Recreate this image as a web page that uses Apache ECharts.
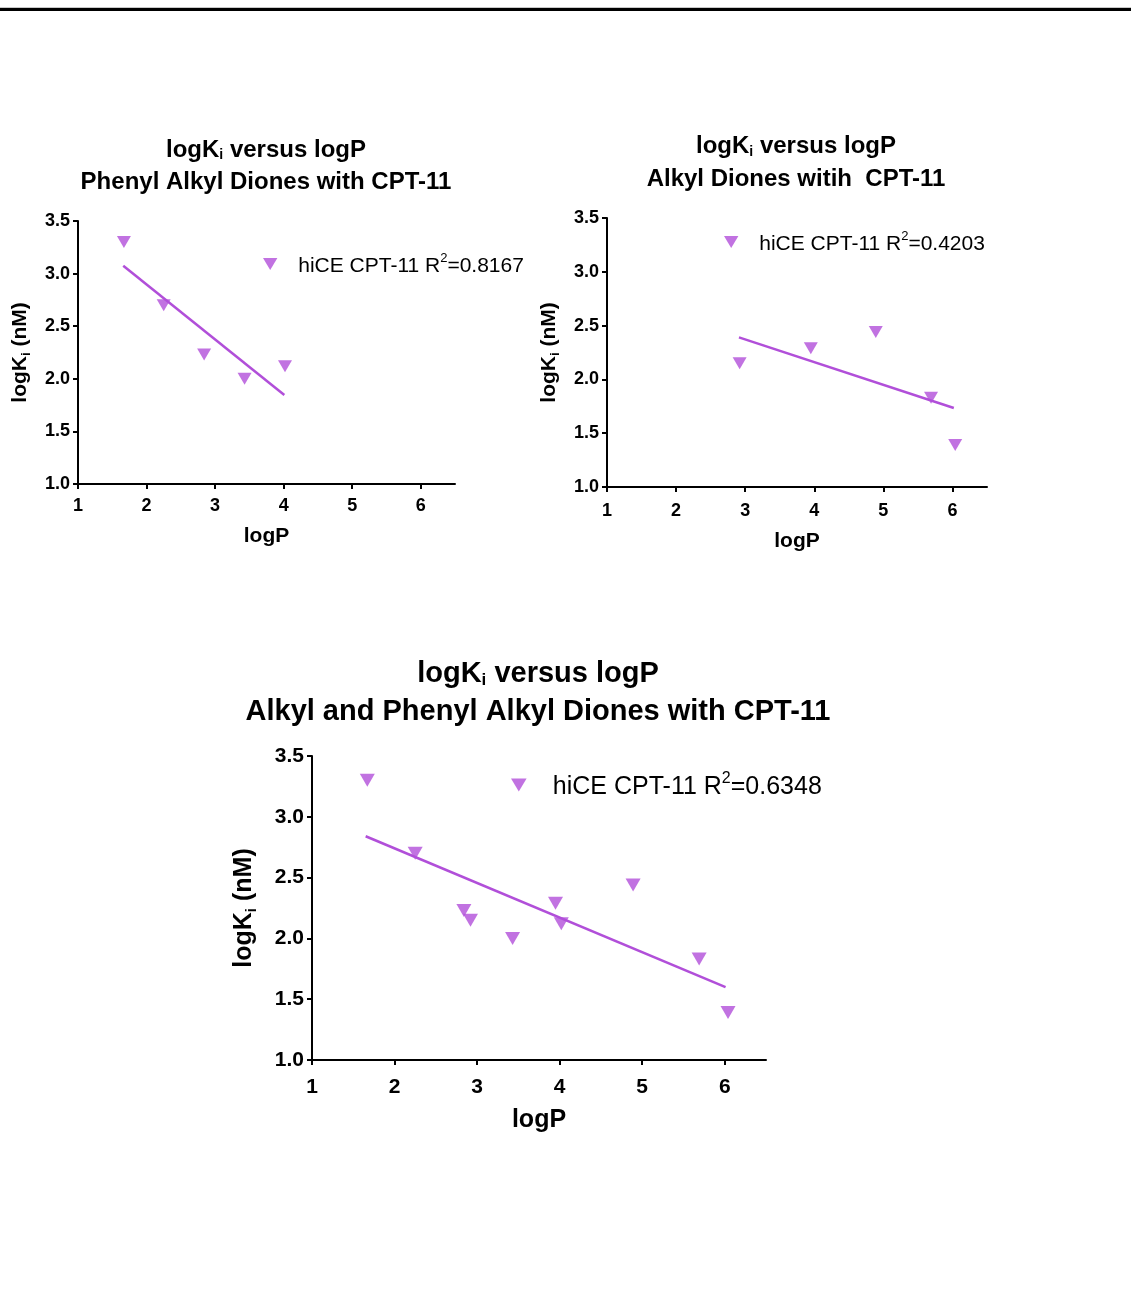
<!DOCTYPE html>
<html>
<head>
<meta charset="utf-8">
<script src="https://cdn.jsdelivr.net/npm/echarts@6/dist/echarts.min.js"></script>
<style>
html,body{margin:0;padding:0;background:#fff;}
#c{width:1131px;height:1309px;}
</style>
</head>
<body>
<div id="c"></div>
<script>
// ---------- data ----------
const xTicks = [1, 2, 3, 4, 5, 6];
const yTicks = [1.0, 1.5, 2.0, 2.5, 3.0, 3.5];

const phenylLogP  = [1.67, 2.25, 2.84, 3.43, 4.02];
const phenylLogKi = [3.30, 2.70, 2.23, 2.00, 2.12];

const alkylLogP  = [2.92, 3.95, 4.89, 5.69, 6.04];
const alkylLogKi = [2.15, 2.29, 2.44, 1.83, 1.39];

const fitPhenylX = [1.66, 4.01];
const fitPhenylY = [3.075, 1.846];
const fitAlkylX  = [2.91, 6.02];
const fitAlkylY  = [2.39, 1.734];
const fitAllX    = [1.65, 6.01];
const fitAllY    = [2.84, 1.60];

const titles = [
  ['Phenyl Alkyl Diones with CPT-11'],
  ['Alkyl Diones witih  CPT-11'],
  ['Alkyl and Phenyl Alkyl Diones with CPT-11']
];
const r2Labels = ['0.8167', '0.4203', '0.6348'];
const seriesNames = ['hiCE CPT-11 phenyl', 'hiCE CPT-11 alkyl', 'hiCE CPT-11 all'];

// ---------- helpers ----------
const FONT = '"Liberation Sans", Arial, Helvetica, sans-serif';
const PURPLE = '#b14fd9';
const TRI = 'path://M0,0L12,0L6,10Z';
const pairs = (xs, ys) => xs.map((x, i) => [x, ys[i]]);

const allLogP = phenylLogP.concat(alkylLogP);
const allLogKi = phenylLogKi.concat(alkylLogKi);

const panels = [
  { grid: {left: 78, top: 221, width: 377, height: 263}, cx: 261, titleTop: 129, tSize: 24, tLine: 32,
    tick: 18, tickM: 13, name: 21, yGap: 45, xGap: 42, leg: 21, legLeft: 263, legTop: 251, legW: 46,
    pts: pairs(phenylLogP, phenylLogKi), fit: pairs(fitPhenylX, fitPhenylY), mk: [14, 12] },
  { grid: {left: 607, top: 218, width: 380, height: 269}, cx: 791, titleTop: 125, tSize: 24, tLine: 33,
    tick: 18, tickM: 15, name: 21, yGap: 45, xGap: 44, leg: 21, legLeft: 724, legTop: 229, legW: 46,
    pts: pairs(alkylLogP, alkylLogKi), fit: pairs(fitAlkylX, fitAlkylY), mk: [14, 12] },
  { grid: {left: 312, top: 756, width: 454, height: 304}, cx: 533, titleTop: 650, tSize: 29, tLine: 38,
    tick: 21, tickM: 17, name: 25, yGap: 53, xGap: 48, leg: 25, legLeft: 511, legTop: 770, legW: 58,
    pts: pairs(allLogP, allLogKi), fit: pairs(fitAllX, fitAllY), mk: [15, 13] }
];

const option = {
  backgroundColor: '#fff',
  animation: false,
  textStyle: { fontFamily: FONT },
  graphic: [
    { type: 'rect', left: 0, top: 7, shape: { width: 1131, height: 1 }, style: { fill: '#c8c8c8' } },
    { type: 'rect', left: 0, top: 8, shape: { width: 1131, height: 3 }, style: { fill: '#000' } }
  ],
  title: [], legend: [], grid: [], xAxis: [], yAxis: [], series: []
};

panels.forEach((p, i) => {
  const sub = Math.round(p.tSize * 0.6);
  option.title.push({
    left: p.cx, top: p.titleTop, textAlign: 'center',
    text: '{a|logK}{s|i}{a| versus logP}\n{a|' + titles[i][0] + '}',
    textStyle: {
      rich: {
        a: { fontFamily: FONT, fontWeight: 'bold', fontSize: p.tSize, lineHeight: p.tLine, color: '#000' },
        s: { fontFamily: FONT, fontWeight: 'bold', fontSize: sub, lineHeight: sub, verticalAlign: 'bottom', color: '#000', padding: [0, 0, 4, 0] }
      }
    }
  });
  option.grid.push(Object.assign({ containLabel: false }, p.grid));
  const axisCommon = {
    axisLine: { show: true, onZero: false, lineStyle: { color: '#000', width: 2 } },
    splitLine: { show: false }
  };
  option.xAxis.push(Object.assign({}, axisCommon, {
    type: 'value', gridIndex: i, min: 1, max: 6.5,
    axisTick: { show: true, length: 5, lineStyle: { color: '#000', width: 2 }, customValues: xTicks },
    axisLabel: { customValues: xTicks, color: '#000', fontFamily: FONT, fontWeight: 'bold', fontSize: p.tick, margin: p.tickM },
    name: 'logP', nameLocation: 'middle', nameGap: p.xGap,
    nameTextStyle: { color: '#000', fontFamily: FONT, fontWeight: 'bold', fontSize: p.name }
  }));
  const ns = Math.round(p.name * 0.6);
  option.yAxis.push(Object.assign({}, axisCommon, {
    type: 'value', gridIndex: i, min: 1, max: 3.5, interval: 0.5,
    axisTick: { show: true, length: 5, lineStyle: { color: '#000', width: 2 }, customValues: yTicks },
    axisLabel: { customValues: yTicks, color: '#000', fontFamily: FONT, fontWeight: 'bold', fontSize: p.tick, margin: 8,
      formatter: v => Number(v).toFixed(1) },
    name: '{a|logK}{s|i}{a| (nM)}', nameLocation: 'middle', nameGap: p.yGap,
    nameTextStyle: {
      rich: {
        a: { fontFamily: FONT, fontWeight: 'bold', fontSize: p.name, color: '#000', lineHeight: p.name + 4 },
        s: { fontFamily: FONT, fontWeight: 'bold', fontSize: ns, color: '#000', lineHeight: ns, verticalAlign: 'bottom' }
      }
    }
  }));
  option.series.push({
    name: seriesNames[i], type: 'scatter', xAxisIndex: i, yAxisIndex: i,
    symbol: TRI, symbolSize: p.mk, symbolKeepAspect: false,
    itemStyle: { color: PURPLE }, data: p.pts, z: 3
  });
  option.series.push({
    name: seriesNames[i] + ' fit', type: 'line', xAxisIndex: i, yAxisIndex: i,
    showSymbol: false, symbol: 'none', lineStyle: { color: PURPLE, width: 2.5 },
    data: p.fit, z: 2
  });
  const supS = Math.round(p.leg * 0.62);
  option.legend.push({
    data: [seriesNames[i]], left: p.legLeft, top: p.legTop, padding: 0,
    orient: 'horizontal', itemWidth: p.legW, itemHeight: p.mk[1], itemGap: 0,
    icon: TRI, selectedMode: false,
    formatter: () => '{t|hiCE CPT-11 R}{sup|2}{t|=' + r2Labels[i] + '}',
    textStyle: {
      rich: {
        t: { fontFamily: FONT, fontSize: p.leg, color: '#000', lineHeight: p.leg + 4, padding: [5, 0, 0, 0] },
        sup: { fontFamily: FONT, fontSize: supS, color: '#000', lineHeight: supS, verticalAlign: 'top' }
      }
    }
  });
});

const chart = echarts.init(document.getElementById('c'), null, { renderer: 'canvas' });
chart.setOption(option);
</script>
</body>
</html>
